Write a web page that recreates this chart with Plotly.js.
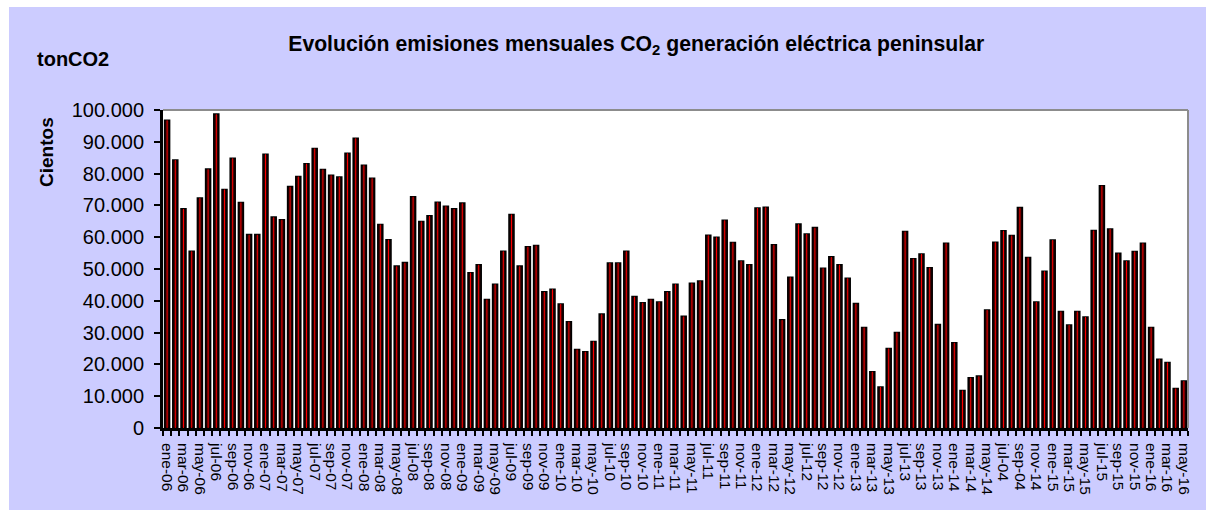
<!DOCTYPE html>
<html>
<head>
<meta charset="utf-8">
<script src="https://cdn.plot.ly/plotly-3.0.1.min.js"></script>
<style>
  html, body { margin: 0; padding: 0; background: #ffffff; }
  #chart { position: absolute; left: 9px; top: 7px; width: 1197px; height: 503px; }
</style>
</head>
<body>
<div id="chart"></div>
<script>
// Month labels as printed on the original chart (note the original's "jul-04" / "sep-04" typos for 2014)
const categories = [
  "ene-06","feb-06","mar-06","abr-06","may-06","jun-06","jul-06","ago-06","sep-06","oct-06","nov-06","dic-06",
  "ene-07","feb-07","mar-07","abr-07","may-07","jun-07","jul-07","ago-07","sep-07","oct-07","nov-07","dic-07",
  "ene-08","feb-08","mar-08","abr-08","may-08","jun-08","jul-08","ago-08","sep-08","oct-08","nov-08","dic-08",
  "ene-09","feb-09","mar-09","abr-09","may-09","jun-09","jul-09","ago-09","sep-09","oct-09","nov-09","dic-09",
  "ene-10","feb-10","mar-10","abr-10","may-10","jun-10","jul-10","ago-10","sep-10","oct-10","nov-10","dic-10",
  "ene-11","feb-11","mar-11","abr-11","may-11","jun-11","jul-11","ago-11","sep-11","oct-11","nov-11","dic-11",
  "ene-12","feb-12","mar-12","abr-12","may-12","jun-12","jul-12","ago-12","sep-12","oct-12","nov-12","dic-12",
  "ene-13","feb-13","mar-13","abr-13","may-13","jun-13","jul-13","ago-13","sep-13","oct-13","nov-13","dic-13",
  "ene-14","feb-14","mar-14","abr-14","may-14","jun-14","jul-04","ago-04","sep-04","oct-14","nov-14","dic-14",
  "ene-15","feb-15","mar-15","abr-15","may-15","jun-15","jul-15","ago-15","sep-15","oct-15","nov-15","dic-15",
  "ene-16","feb-16","mar-16","abr-16","may-16"
];

// Monthly emissions (cientos de tonCO2)
const emissions = [
  96800, 84300, 68900, 55600, 72300, 81400, 98700, 75000, 84800, 70900, 60800, 60800,
  86100, 66300, 65500, 75900, 79100, 83100, 87900, 81300, 79500, 78900, 86400, 91100,
  82600, 78500, 64000, 59200, 50900, 52000, 72700, 64900, 66700, 71000, 69700, 68900,
  70700, 48800, 51300, 40400, 45200, 55600, 67100, 50900, 57000, 57400, 42800, 43600,
  39000, 33400, 24700, 24000, 27200, 35800, 51900, 51900, 55600, 41300, 39400, 40400,
  39600, 42800, 45200, 35100, 45500, 46200, 60600, 60000, 65300, 58300, 52500, 51300,
  69200, 69400, 57600, 34000, 47400, 64100, 61000, 63000, 50200, 53800, 51300, 47100,
  39100, 31600, 17700, 12900, 25000, 30000, 61800, 53200, 54700, 50400, 32500, 58100,
  26800, 11800, 15800, 16300, 37100, 58400, 62000, 60500, 69300, 53600, 39600, 49300,
  59100, 36600, 32400, 36600, 34900, 62100, 76200, 62600, 54900, 52500, 55500, 58100,
  31600, 21600, 20600, 12400, 14800
];

const chartTitle = "Evolución emisiones mensuales CO<sub>2</sub> generación eléctrica peninsular";
const unitLabel = "tonCO2";
const yAxisLabel = "Cientos";

// every second month is labelled
const labelledCategories = categories.filter((c, i) => i % 2 === 0);
const FONT = "Liberation Sans, Arial, sans-serif";

const traces = [
  {
    type: "bar",
    x: categories,
    y: emissions,
    xaxis: "x",
    width: 0.6,
    marker: { color: "#2a0000", line: { color: "#000000", width: 1.6 } },
    hoverinfo: "x+y",
    showlegend: false
  },
  {
    type: "bar",
    x: categories,
    y: emissions,
    xaxis: "x2",
    width: 0.12,
    marker: { color: "#ff0000", line: { width: 0 } },
    hoverinfo: "skip",
    showlegend: false
  }
];

const layout = {
  width: 1197,
  height: 503,
  margin: { l: 154, r: 18, t: 103, b: 82 },
  paper_bgcolor: "#CCCCFF",
  plot_bgcolor: "#ffffff",
  separators: ",.",
  barmode: "overlay",
  font: { family: FONT, color: "#000000" },
  title: {
    text: "<b>" + chartTitle + "</b>",
    font: { family: FONT, size: 21.2, color: "#000000" },
    xref: "container", x: 0.524, xanchor: "center",
    yref: "container", y: 0.928, yanchor: "middle"
  },
  xaxis: {
    type: "category",
    categoryorder: "array",
    categoryarray: categories,
    tickmode: "array",
    tickvals: categories,
    tickson: "boundaries",
    ticks: "outside",
    ticklen: 5,
    tickwidth: 2,
    tickcolor: "#000000",
    showticklabels: false,
    showline: true,
    linecolor: "#000000",
    linewidth: 3,
    showgrid: false,
    zeroline: false,
    range: [-0.5, categories.length - 0.5],
    fixedrange: true
  },
  xaxis2: {
    type: "category",
    overlaying: "x",
    side: "bottom",
    anchor: "y",
    categoryorder: "array",
    categoryarray: categories,
    tickmode: "array",
    tickvals: labelledCategories,
    ticktext: labelledCategories,
    tickangle: 90,
    ticks: "outside",
    ticklen: 11,
    tickwidth: 1,
    tickcolor: "rgba(0,0,0,0)",
    showline: false,
    showgrid: false,
    zeroline: false,
    tickfont: { family: FONT, size: 15.5, color: "#000000" },
    range: [-0.5, categories.length - 0.5],
    fixedrange: true
  },
  yaxis: {
    range: [0, 100000],
    tick0: 0,
    dtick: 10000,
    tickformat: ",d",
    ticks: "outside",
    ticklen: 6,
    tickwidth: 2,
    tickcolor: "#000000",
    showline: true,
    linecolor: "#000000",
    linewidth: 3,
    showgrid: false,
    zeroline: false,
    tickfont: { family: FONT, size: 20, color: "#000000" },
    ticklabelstandoff: 6,
    fixedrange: true
  },
  shapes: [
    { type: "line", xref: "paper", yref: "paper", x0: 0, x1: 1, y0: 1, y1: 1,
      line: { color: "#8c8c8c", width: 2 } },
    { type: "line", xref: "paper", yref: "paper", x0: 1, x1: 1, y0: 0, y1: 1,
      line: { color: "#8c8c8c", width: 2 } }
  ],
  annotations: [
    { text: "<b>" + unitLabel + "</b>", xref: "paper", yref: "paper",
      x: -0.0878, y: 1.160, xanchor: "center", yanchor: "middle", showarrow: false,
      font: { family: FONT, size: 20, color: "#000000" } },
    { text: "<b>" + yAxisLabel + "</b>", xref: "paper", yref: "paper",
      x: -0.1132, y: 0.868, xanchor: "center", yanchor: "middle", textangle: -90, showarrow: false,
      font: { family: FONT, size: 19, color: "#000000" } }
  ]
};

Plotly.newPlot("chart", traces, layout, { displayModeBar: false, staticPlot: true });
</script>
</body>
</html>
